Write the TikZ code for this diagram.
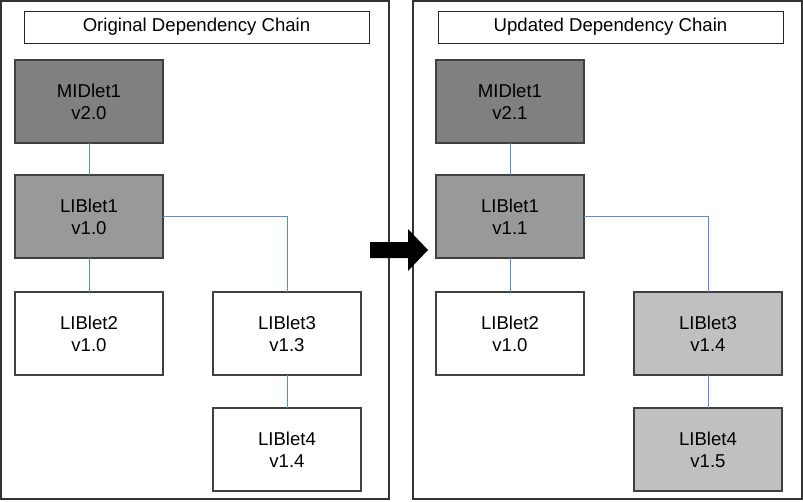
\documentclass[tikz,border=0pt]{standalone}
\usepackage{fontspec}
\setmainfont{Liberation Sans}
\usetikzlibrary{positioning}
\definecolor{boxline}{HTML}{404040}
\definecolor{midfill}{HTML}{808080}
\definecolor{libfill}{HTML}{999999}
\definecolor{newfill}{HTML}{C0C0C0}
\definecolor{linkblue}{HTML}{5B8BD0}
\begin{document}
\begin{tikzpicture}[x=1pt,y=-1pt,
    box/.style={draw=boxline,line width=1.2pt,minimum width=148pt,minimum height=83pt,inner sep=0pt,outer sep=0pt,align=center,text=black,font=\fontsize{18.6}{22}\selectfont},
    head/.style={draw=black!85,line width=1pt,minimum width=345pt,minimum height=32pt,inner sep=0pt,outer sep=0pt,anchor=north west,font=\fontsize{18.6}{22}\selectfont},
    panel/.style={draw=black!80,line width=1.3pt},
    link/.style={draw=linkblue,line width=0.9pt}]
    \useasboundingbox (0,0) rectangle (803,501);

    % left panel
    \draw[panel] (1,1) rectangle (389,499);
    \node[head] (t1) at (24,11) {Original Dependency Chain};
    \node[box,fill=midfill,anchor=north west] (m1) at (15,60) {MIDlet1\\v2.0};
    \node[box,fill=libfill,below=32pt of m1] (a1) {LIBlet1\\v1.0};
    \node[box,fill=white,below=34pt of a1] (a2) {LIBlet2\\v1.0};
    \node[box,fill=white,right=50pt of a2] (a3) {LIBlet3\\v1.3};
    \node[box,fill=white,below=33pt of a3] (a4) {LIBlet4\\v1.4};

    \draw[link] (m1) -- (a1);
    \draw[link] (a1) -- (a2);
    \draw[link] (a1.east) -| (a3.north);
    \draw[link] (a3) -- (a4);

    % right panel
    \draw[panel] (413,1) rectangle (802,499);
    \node[head] (t2) at (438,11) {Updated Dependency Chain};
    \node[box,fill=midfill,anchor=north west] (m2) at (436,60) {MIDlet1\\v2.1};
    \node[box,fill=libfill,below=32pt of m2] (b1) {LIBlet1\\v1.1};
    \node[box,fill=white,below=34pt of b1] (b2) {LIBlet2\\v1.0};
    \node[box,fill=newfill,right=50pt of b2] (b3) {LIBlet3\\v1.4};
    \node[box,fill=newfill,below=33pt of b3] (b4) {LIBlet4\\v1.5};

    \draw[link] (m2) -- (b1);
    \draw[link] (b1) -- (b2);
    \draw[link] (b1.east) -| (b3.north);
    \draw[link] (b3) -- (b4);

    % big arrow between the panels
    \fill[black] (370,242) -- (408,242) -- (408,229) -- (428,250) -- (408,271) -- (408,258) -- (370,258) -- cycle;
\end{tikzpicture}
\end{document}
